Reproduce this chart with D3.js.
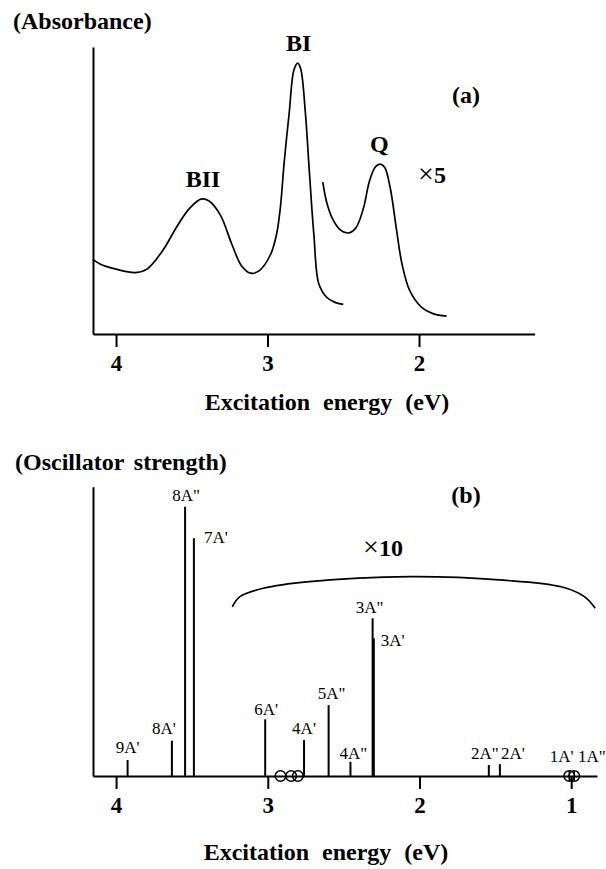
<!DOCTYPE html>
<html>
<head>
<meta charset="utf-8">
<script src="https://cdn.jsdelivr.net/npm/d3@7"></script>
<style>
  body { margin: 0; background: #fff; }
  svg { display: block; }
  text { font-family: "Liberation Serif", "Times New Roman", serif; fill: #000; }
</style>
</head>
<body>
<div id="chart"></div>
<script>
// (a) absorbance spectrum (arbitrary units, axis top = 100)
const absEnergy = [4.153, 4.102, 4.0, 3.873, 3.796, 3.694, 3.592, 3.516, 3.439, 3.388,
  3.312, 3.235, 3.171, 3.112, 3.056, 2.980, 2.941, 2.916, 2.890, 2.857,
  2.826, 2.801, 2.781, 2.750, 2.725, 2.694, 2.661, 2.610, 2.558, 2.500];
const absValue = [26.0, 24.3, 22.6, 21.4, 22.6, 28.9, 38.0, 43.7, 47.0, 46.4,
  41.5, 31.2, 23.7, 21.2, 22.0, 27.7, 34.6, 43.7, 59.8, 77.0,
  91.9, 94.4, 92.4, 77.0, 57.5, 34.6, 17.4, 12.8, 11.1, 10.3];

// Q band, drawn x5
const qEnergy = [2.635, 2.610, 2.572, 2.520, 2.469, 2.418, 2.367, 2.329, 2.290, 2.257,
  2.227, 2.189, 2.150, 2.112, 2.061, 1.985, 1.908, 1.818];
const qValue = [52.9, 46.0, 40.3, 36.3, 35.2, 36.9, 43.8, 52.9, 58.1, 59.2,
  58.1, 50.6, 36.9, 24.3, 15.1, 9.4, 7.1, 6.2];

const peakNames = ['BII', 'BI', 'Q'];
const peakEnergy = [3.426, 2.795, 2.262];
const peakValue = [47.0, 94.4, 59.2];

// (b) calculated transitions
const stickLabels = ["9A'", "8A'", '8A"', "7A'", "6A'", "4A'", '5A"', '4A"', '3A"', "3A'", '2A"', "2A'"];
const stickEnergy = [3.924, 3.632, 3.545, 3.487, 3.017, 2.761, 2.599, 2.455, 2.309, 2.301, 1.543, 1.470];
const stickStrength = [5.5, 12.2, 93.1, 82.2, 19.6, 12.4, 24.5, 4.9, 54.5, 47.6, 3.8, 4.1];

// forbidden (zero strength) states
const zeroLabels = ['', '', '', "1A'", '1A"'];
const zeroEnergy = [2.916, 2.846, 2.802, 1.013, 0.980];

// x10 bracket, in data units
const bracketEnergy = [3.234, 3.183, 3.030, 2.726, 2.061, 1.449, 1.066, 0.913, 0.842];
const bracketValue = [58.5, 62.0, 64.9, 67.2, 68.9, 67.7, 65.4, 62.0, 58.0];

const tickTop = [4, 3, 2];
const tickBottom = [4, 3, 2, 1];

// layout
const optsTop = { x0: 93, x1: 534.6, y0: 334, y1: 47, eMax: 4.152, eMin: 1.237 };
const optsBottom = { x0: 93, x1: 597, y0: 776, y1: 486.7, eMax: 4.152, eMin: 0.83 };
const fontBold = { size: 24, weight: 'bold' };

// per-label nudges for the stick labels: [anchor, dx, dy]
const labelNudge = {
  "9A'": ['middle', 0, -7], "8A'": ['middle', -8, -7], '8A"': ['middle', 1, -6],
  "7A'": ['start', 10, 5], "6A'": ['middle', 1, -4], "4A'": ['middle', 0, -6],
  '5A"': ['middle', 3, -6], '4A"': ['middle', 3, -3], '3A"': ['middle', -3, -5],
  "3A'": ['start', 7, 8], '2A"': ['middle', -4, -6], "2A'": ['middle', 13, -5],
  "1A'": ['middle', -7.5, -14], '1A"': ['middle', 17.5, -14]
};

const svg = d3.select('#chart')
  .append('svg')
  .attr('width', 606)
  .attr('height', 869);

function drawAxes(g, x, y, ticks, opts) {
  g.append('g')
    .attr('transform', `translate(0 ${opts.y0})`)
    .call(d3.axisBottom(x).tickValues(ticks).tickSizeInner(13).tickSizeOuter(0).tickPadding(8).tickFormat(d3.format('d')))
    .call(a => a.select('.domain').attr('stroke-width', 2))
    .call(a => a.selectAll('.tick line').attr('stroke-width', 2))
    .call(a => a.selectAll('.tick text')
      .attr('font-size', 23).attr('font-weight', 'bold'));

  g.append('g')
    .attr('transform', `translate(${opts.x0} 0)`)
    .call(d3.axisLeft(y).tickValues([]).tickSizeOuter(0))
    .call(a => a.select('.domain').attr('stroke-width', 2));
}

function boldText(g, str, x, y, anchor) {
  return g.append('text')
    .attr('x', x).attr('y', y)
    .attr('text-anchor', anchor || 'start')
    .attr('font-size', fontBold.size)
    .attr('font-weight', fontBold.weight)
    .text(str);
}

// ---------- panel (a) ----------
function absorbancePanel(opts = optsTop) {
  const g = svg.append('g').attr('id', 'panel-a');
  const x = d3.scaleLinear().domain([opts.eMax, opts.eMin]).range([opts.x0, opts.x1]);
  const y = d3.scaleLinear().domain([0, 100]).range([opts.y0, opts.y1]);

  drawAxes(g, x, y, tickTop, opts);

  const line = d3.line()
    .x(d => x(d[0]))
    .y(d => y(d[1]))
    .curve(d3.curveCatmullRom.alpha(0.5));

  g.append('path')
    .datum(d3.zip(absEnergy, absValue))
    .attr('d', line)
    .attr('fill', 'none').attr('stroke', '#000').attr('stroke-width', 1.7);

  g.append('path')
    .datum(d3.zip(qEnergy, qValue))
    .attr('d', line)
    .attr('fill', 'none').attr('stroke', '#000').attr('stroke-width', 1.7);

  g.selectAll('text.peak')
    .data(peakNames)
    .join('text')
      .attr('class', 'peak')
      .attr('x', (d, i) => x(peakEnergy[i]))
      .attr('y', (d, i) => y(peakValue[i]) - 12)
      .attr('text-anchor', 'middle')
      .attr('font-size', fontBold.size)
      .attr('font-weight', 'bold')
      .text(d => d);

  const t5 = g.append('text')
    .attr('x', 432).attr('y', 183)
    .attr('text-anchor', 'middle')
    .attr('font-size', fontBold.size);
  t5.append('tspan').attr('font-size', 28).text('\u00d7');
  t5.append('tspan').attr('font-weight', 'bold').text('5');

  boldText(g, '(a)', 466, 103, 'middle');
  boldText(g, '(Absorbance)', 13, 29);
  boldText(g, 'Excitation energy (eV)', 327, 410, 'middle').attr('word-spacing', 7);
}

// ---------- panel (b) ----------
function oscillatorPanel(opts = optsBottom) {
  const g = svg.append('g').attr('id', 'panel-b');
  const x = d3.scaleLinear().domain([opts.eMax, opts.eMin]).range([opts.x0, opts.x1]);
  const y = d3.scaleLinear().domain([0, 100]).range([opts.y0, opts.y1]);

  drawAxes(g, x, y, tickBottom, opts);

  g.append('g').attr('id', 'sticks')
    .selectAll('line')
    .data(stickEnergy)
    .join('line')
      .attr('x1', d => x(d)).attr('x2', d => x(d))
      .attr('y1', y(0))
      .attr('y2', (d, i) => y(stickStrength[i]))
      .attr('stroke', '#000')
      .attr('stroke-width', 2);

  g.append('g').attr('id', 'stick-labels')
    .selectAll('text')
    .data(stickLabels)
    .join('text')
      .attr('x', (d, i) => x(stickEnergy[i]) + labelNudge[d][1])
      .attr('y', (d, i) => y(stickStrength[i]) + labelNudge[d][2])
      .attr('text-anchor', d => labelNudge[d][0])
      .attr('font-size', 17)
      .text(d => d);

  // zero-strength states
  const zg = g.append('g').attr('id', 'zero-states');
  zg.selectAll('circle')
    .data(zeroEnergy)
    .join('circle')
      .attr('cx', d => x(d))
      .attr('cy', y(0))
      .attr('r', 5.3)
      .attr('fill', 'none')
      .attr('stroke', '#000')
      .attr('stroke-width', 1.5);
  zg.selectAll('line')
    .data(zeroEnergy.filter((d, i) => zeroLabels[i] !== ''))
    .join('line')
      .attr('x1', d => x(d)).attr('x2', d => x(d))
      .attr('y1', y(0) - 5).attr('y2', y(0) + 5)
      .attr('stroke', '#000').attr('stroke-width', 1.3);
  zg.selectAll('text')
    .data(zeroLabels.filter(d => d !== ''))
    .join('text')
      .attr('x', d => x(zeroEnergy[zeroLabels.indexOf(d)]) + labelNudge[d][1])
      .attr('y', d => y(0) + labelNudge[d][2])
      .attr('text-anchor', 'middle')
      .attr('font-size', 17)
      .text(d => d);

  // x10 bracket
  g.append('path')
    .datum(d3.zip(bracketEnergy, bracketValue))
    .attr('d', d3.line().x(d => x(d[0])).y(d => y(d[1])).curve(d3.curveCatmullRom.alpha(0.5)))
    .attr('fill', 'none').attr('stroke', '#000').attr('stroke-width', 1.7);

  const t10 = g.append('text')
    .attr('x', 383).attr('y', 556)
    .attr('text-anchor', 'middle')
    .attr('font-size', fontBold.size);
  t10.append('tspan').attr('font-size', 28).text('\u00d7');
  t10.append('tspan').attr('font-weight', 'bold').text('10');

  boldText(g, '(b)', 466, 503, 'middle');
  boldText(g, '(Oscillator strength)', 15, 470).attr('word-spacing', 4);
  boldText(g, 'Excitation energy (eV)', 326, 860, 'middle').attr('word-spacing', 7);
}

absorbancePanel();
oscillatorPanel();
</script>
</body>
</html>
